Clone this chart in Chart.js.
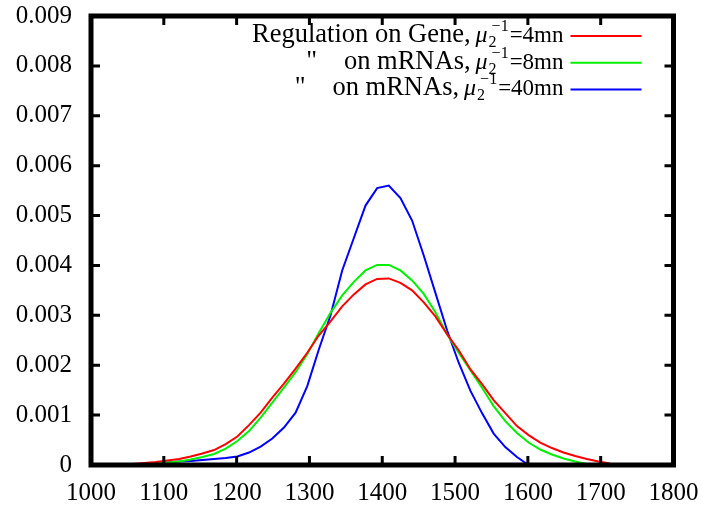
<!DOCTYPE html>
<html>
<head>
<meta charset="utf-8">
<script src="https://cdn.jsdelivr.net/npm/chart.js@4"></script>
<style>
  html, body { margin: 0; padding: 0; background: #fff; }
</style>
</head>
<body>
<canvas id="chart" width="703" height="510"></canvas>
<script>
// x positions of the sampled points (shared by all three curves)
const xValues = [1057, 1073, 1089, 1105, 1121, 1137, 1153, 1169, 1185, 1201,
  1217, 1233, 1249, 1265, 1281, 1297, 1313, 1329, 1345, 1361,
  1377, 1393, 1409, 1425, 1441, 1457, 1473, 1489, 1505, 1521,
  1537, 1553, 1569, 1585, 1601, 1617, 1633, 1649, 1665, 1681,
  1697, 1713];

// regulation on gene, mu2^-1 = 4mn
const geneValues = [0.00002, 0.00004, 0.00006, 0.00009, 0.00012, 0.00017, 0.00023, 0.00030, 0.00042, 0.00057,
  0.00080, 0.00105, 0.00135, 0.00163, 0.00193, 0.00225, 0.00260, 0.00288, 0.00318, 0.00342,
  0.00362, 0.00373, 0.00374, 0.00365, 0.00350, 0.00326, 0.00298, 0.00262, 0.00230, 0.00192,
  0.00162, 0.00130, 0.00104, 0.00078, 0.00060, 0.00045, 0.00034, 0.00025, 0.00018, 0.00012,
  0.00007, 0.00003];

// on mRNAs, mu2^-1 = 8mn
const mrna8Values = [0.00001, 0.00002, 0.00003, 0.00005, 0.00007, 0.00011, 0.00016, 0.00022, 0.00033, 0.00048,
  0.00068, 0.00095, 0.00125, 0.00155, 0.00186, 0.00222, 0.00265, 0.00305, 0.00340, 0.00367,
  0.00390, 0.00401, 0.00401, 0.00390, 0.00370, 0.00343, 0.00306, 0.00262, 0.00225, 0.00190,
  0.00155, 0.00118, 0.00088, 0.00064, 0.00045, 0.00031, 0.00021, 0.00013, 0.00007, 0.00002];

// on mRNAs, mu2^-1 = 40mn
const mrna40Values = [0.00001, 0.00002, 0.00003, 0.00005, 0.00007, 0.00008, 0.00010, 0.00012, 0.00014, 0.00017,
  0.00025, 0.00037, 0.00053, 0.00075, 0.00105, 0.00158, 0.00232, 0.00300, 0.00390, 0.00455,
  0.00520, 0.00555, 0.00560, 0.00535, 0.00490, 0.00420, 0.00345, 0.00270, 0.00205, 0.00149,
  0.00104, 0.00063, 0.00036, 0.00016, 0.00000];

const xTickLabels = ['1000', '1100', '1200', '1300', '1400', '1500', '1600', '1700', '1800'];
const yTickLabels = ['0', '0.001', '0.002', '0.003', '0.004', '0.005', '0.006', '0.007', '0.008', '0.009'];

const legendText = ['Regulation on Gene,', 'on mRNAs,', 'on mRNAs,'];
const legendDitto = [false, true, true];
const legendParams = ['4mn', '8mn', '40mn'];
const seriesColors = ['#ff0000', '#00f000', '#0000ff'];

const FONT = '"Liberation Serif", "Times New Roman", serif';

function toPoints(values) {
    return values.map((v, i) => ({ x: xValues[i], y: v }));
}

// stop the tick labels from pushing the plot area inwards
function noLabelPadding(scale) {
    scale.paddingTop = 0;
    scale.paddingBottom = 0;
    scale.paddingLeft = 0;
    scale.paddingRight = 0;
}

// thick frame with inward ticks on all four sides
const framePlugin = {
    id: 'frame',
    afterDatasetsDraw(chart) {
        const { ctx, chartArea: a, scales } = chart;
        ctx.save();
        ctx.strokeStyle = '#000';
        ctx.lineWidth = 3;
        scales.x.ticks.forEach(t => {
            const px = scales.x.getPixelForValue(t.value);
            ctx.beginPath();
            ctx.moveTo(px, a.bottom); ctx.lineTo(px, a.bottom - 9);
            ctx.moveTo(px, a.top); ctx.lineTo(px, a.top + 9);
            ctx.stroke();
        });
        scales.y.ticks.forEach(t => {
            const py = scales.y.getPixelForValue(t.value);
            ctx.beginPath();
            ctx.moveTo(a.left, py); ctx.lineTo(a.left + 9, py);
            ctx.moveTo(a.right, py); ctx.lineTo(a.right - 9, py);
            ctx.stroke();
        });
        ctx.lineWidth = 5;
        ctx.strokeRect(a.left, a.top, a.right - a.left, a.bottom - a.top);
        ctx.restore();
    }
};

// legend in the top right, text right aligned before the line sample
const legendPlugin = {
    id: 'mathLegend',
    afterDraw(chart) {
        const { ctx, chartArea: a } = chart;
        ctx.save();
        ctx.fillStyle = '#000';
        ctx.textBaseline = 'alphabetic';
        legendText.forEach((label, i) => {
            const base = a.top + 26 + i * 26.7;
            let x = a.right - 110;

            ctx.font = '23px ' + FONT;
            ctx.textAlign = 'right';
            const eq = '=' + legendParams[i];
            ctx.fillText(eq, x, base);
            x -= ctx.measureText(eq).width + 1;

            ctx.font = '16px ' + FONT;
            const wSup = ctx.measureText('\u22121').width;
            ctx.textAlign = 'left';
            ctx.fillText('\u22121', x - wSup, base - 11);
            ctx.fillText('2', x - wSup - 3, base + 5);
            x -= wSup + 4;

            ctx.font = 'italic 24px ' + FONT;
            ctx.textAlign = 'right';
            ctx.fillText('\u03bc', x, base);
            x -= ctx.measureText('\u03bc').width + 5;

            ctx.font = '26.5px ' + FONT;
            ctx.fillText(label, x, base);
            if (legendDitto[i]) {
                const w = ctx.measureText(label).width;
                ctx.fillText('"', x - w - 27, base);
            }

            ctx.strokeStyle = seriesColors[i];
            ctx.lineWidth = 2;
            ctx.beginPath();
            ctx.moveTo(a.right - 103, base - 6);
            ctx.lineTo(a.right - 32, base - 6);
            ctx.stroke();
        });
        ctx.restore();
    }
};

const ctx = document.getElementById('chart').getContext('2d');
new Chart(ctx, {
    type: 'line',
    data: {
        datasets: [
            { data: toPoints(geneValues), borderColor: seriesColors[0] },
            { data: toPoints(mrna8Values), borderColor: seriesColors[1] },
            { data: toPoints(mrna40Values), borderColor: seriesColors[2] }
        ]
    },
    options: {
        responsive: false,
        animation: false,
        layout: { padding: { top: 16, right: 29.5, left: 0, bottom: 0 } },
        elements: {
            point: { radius: 0 },
            line: { borderWidth: 2, tension: 0, fill: false }
        },
        plugins: {
            legend: { display: false },
            tooltip: { enabled: false }
        },
        scales: {
            x: {
                type: 'linear',
                min: 1000,
                max: 1800,
                grid: { display: false, drawTicks: false },
                border: { display: false },
                ticks: {
                    stepSize: 100,
                    maxRotation: 0,
                    color: '#000',
                    padding: 13,
                    font: { family: FONT, size: 25 },
                    callback: (v, i) => xTickLabels[i]
                },
                afterFit(scale) { scale.height = 45; noLabelPadding(scale); }
            },
            y: {
                min: 0,
                max: 0.009,
                grid: { display: false, drawTicks: false },
                border: { display: false },
                ticks: {
                    stepSize: 0.001,
                    color: '#000',
                    padding: 19,
                    font: { family: FONT, size: 25 },
                    callback: (v, i) => yTickLabels[i]
                },
                afterFit(scale) { scale.width = 91; noLabelPadding(scale); }
            }
        }
    },
    plugins: [framePlugin, legendPlugin]
});
</script>
</body>
</html>
